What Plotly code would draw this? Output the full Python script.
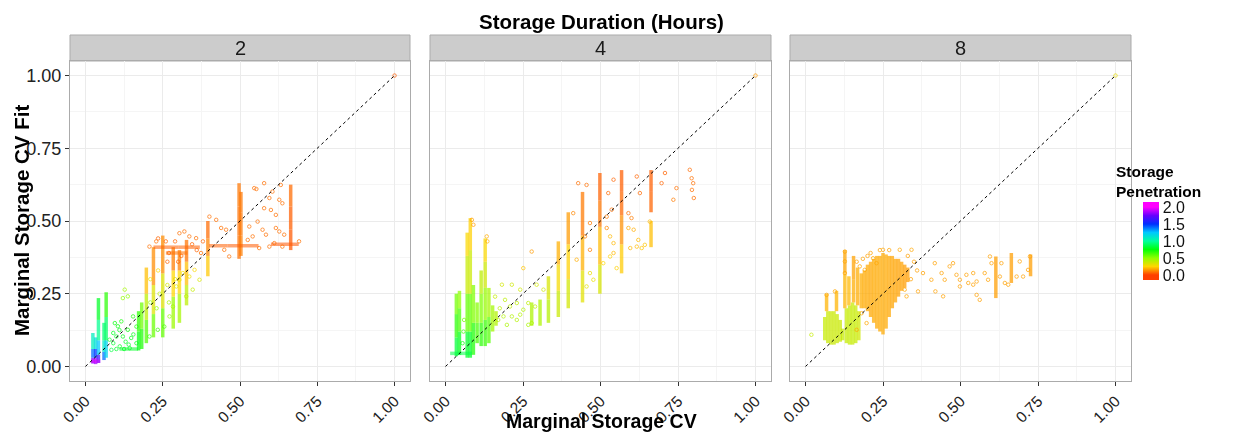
import plotly.graph_objects as go
from plotly.colors import sample_colorscale

# page is rendered with an 8px body margin: figure pixel = page pixel - 8
OFF = 8
W, H = 1238 - 2 * OFF, 441 - 2 * OFF
ML, MT = 70 - OFF, 35 - OFF
MR, MB = W - (1131 - OFF), H - (381 - OFF)
PW, PH = W - ML - MR, H - MT - MB
FONT = "Liberation Sans, Arial, sans-serif"

DURATIONS = ["2", "4", "8"]
X_TICKS = [0, 0.25, 0.5, 0.75, 1.0]
X_TICK_TEXT = ["0.00", "0.25", "0.50", "0.75", "1.00"]
Y_TICKS = [0, 0.25, 0.5, 0.75, 1.0]
Y_TICK_TEXT = ["0.00", "0.25", "0.50", "0.75", "1.00"]
MINOR_TICKS = [0.125, 0.375, 0.625, 0.875]
PEN_TICKS = [0, 0.5, 1.0, 1.5, 2.0]
PEN_TICK_TEXT = ["0.0", "0.5", "1.0", "1.5", "2.0"]
PEN_LIMITS = [-0.15, 2.15]
DIAG = [0.0, 1.0]

# ---------------- Panel "2" hours ----------------
# vertical streaks of points: (x, y knots, penetration at knots)
STREAKS_2 = [
    (0.024, [0.010, 0.03, 0.06, 0.115], [2.0, 1.6, 1.2, 0.95]),
    (0.033, [0.008, 0.03, 0.06, 0.10], [2.0, 1.7, 1.3, 1.0]),
    (0.042, [0.012, 0.04, 0.09, 0.16, 0.235], [1.9, 1.4, 1.1, 0.85, 0.75]),
    (0.060, [0.022, 0.05, 0.09, 0.15], [1.6, 1.2, 1.0, 0.85]),
    (0.067, [0.03, 0.09, 0.17, 0.255], [1.4, 1.0, 0.8, 0.55]),
    (0.172, [0.055, 0.12, 0.19], [0.8, 0.72, 0.62]),
    (0.182, [0.06, 0.13, 0.22], [0.78, 0.62, 0.5]),
    (0.197, [0.08, 0.16, 0.25, 0.34], [0.72, 0.5, 0.3, 0.12]),
    (0.220, [0.10, 0.18, 0.28, 0.41], [0.68, 0.45, 0.2, 0.05]),
    (0.250, [0.10, 0.20, 0.32, 0.45], [0.7, 0.45, 0.2, 0.05]),
    (0.284, [0.13, 0.24, 0.33, 0.41], [0.6, 0.35, 0.15, 0.05]),
    (0.304, [0.15, 0.25, 0.33, 0.40], [0.55, 0.35, 0.15, 0.06]),
    (0.327, [0.21, 0.28, 0.36, 0.435], [0.5, 0.3, 0.12, 0.05]),
    (0.396, [0.31, 0.38, 0.44, 0.50], [0.3, 0.15, 0.08, 0.06]),
    (0.497, [0.37, 0.45, 0.55, 0.63], [0.08, 0.08, 0.08, 0.1]),
    (0.503, [0.38, 0.45, 0.53, 0.60], [0.1, 0.1, 0.08, 0.1]),
    (0.664, [0.40, 0.47, 0.55, 0.625], [0.04, 0.04, 0.06, 0.08]),
]
# horizontal bands: (y, x knots, penetration at knots)
BANDS_2 = [
    (0.018, [0.018, 0.048], [2.0, 1.9]),
    (0.060, [0.11, 0.17], [0.8, 0.8]),
    (0.410, [0.22, 0.30, 0.37], [0.05, 0.05, 0.06]),
    (0.390, [0.26, 0.33], [0.08, 0.08]),
    (0.415, [0.40, 0.46, 0.56], [0.06, 0.04, 0.05]),
    (0.420, [0.60, 0.69], [0.04, 0.03]),
]
SCAT_X_2 = [0.578, 0.546, 0.605, 0.595, 0.627, 0.637, 0.578, 0.600, 0.616, 0.557, 0.573, 0.584,
            0.616, 0.627, 0.643, 0.530, 0.541, 0.562, 0.595, 0.611, 0.637, 0.691, 0.525, 0.553, 0.632,
            0.207, 0.229, 0.304, 0.320, 0.336, 0.358, 0.401, 0.423, 0.439, 0.455, 0.449, 0.465, 0.374,
            0.235, 0.260, 0.270, 0.290, 0.310, 0.345, 0.360, 0.380, 0.265, 0.300,
            0.121, 0.137, 0.127, 0.095, 0.105, 0.078, 0.084, 0.111, 0.143, 0.165, 0.137, 0.165, 0.121,
            0.148, 0.100, 0.116, 0.154, 0.090, 0.100, 0.130, 0.155, 0.125, 0.140, 0.090, 0.110,
            0.304, 0.315, 0.336, 0.294, 0.353, 0.283, 0.272, 0.234, 0.207, 0.255, 0.347, 0.326, 0.369,
            0.210, 0.235, 0.240, 0.265, 0.270, 0.230, 0.210, 0.290,
            1.0]
SCAT_Y_2 = [0.630, 0.613, 0.601, 0.579, 0.573, 0.561, 0.544, 0.538, 0.521, 0.498, 0.470, 0.453,
            0.476, 0.464, 0.453, 0.481, 0.447, 0.407, 0.412, 0.424, 0.412, 0.430, 0.435, 0.610, 0.624,
            0.412, 0.430, 0.458, 0.464, 0.447, 0.441, 0.515, 0.504, 0.476, 0.470, 0.401, 0.378, 0.390,
            0.440, 0.430, 0.390, 0.430, 0.380, 0.420, 0.400, 0.430, 0.360, 0.360,
            0.235, 0.241, 0.264, 0.149, 0.138, 0.092, 0.057, 0.069, 0.063, 0.080, 0.126, 0.137, 0.103,
            0.098, 0.103, 0.155, 0.172, 0.080, 0.060, 0.085, 0.110, 0.060, 0.075, 0.115, 0.125,
            0.298, 0.321, 0.309, 0.275, 0.332, 0.206, 0.172, 0.126, 0.103, 0.137, 0.264, 0.241, 0.298,
            0.300, 0.330, 0.250, 0.280, 0.220, 0.200, 0.220, 0.300,
            1.0]
SCAT_P_2 = [0.08] * 25 + [0.08] * 13 + [0.06] * 10 + \
           [0.5, 0.5, 0.45, 0.75, 0.75, 0.8, 0.85, 0.8, 0.8, 0.78, 0.75, 0.72, 0.78,
            0.78, 0.8, 0.72, 0.7, 0.82, 0.82, 0.8, 0.78, 0.8, 0.8, 0.8, 0.78] + \
           [0.3, 0.28, 0.3, 0.33, 0.26, 0.45, 0.5, 0.65, 0.68, 0.62, 0.38, 0.42, 0.34] + \
           [0.3, 0.25, 0.4, 0.35, 0.45, 0.5, 0.5, 0.3] + [0.05]

# ---------------- Panel "4" hours ----------------
STREAKS_4 = [
    (0.035, [0.035, 0.10, 0.18, 0.25], [0.9, 0.75, 0.6, 0.5]),
    (0.045, [0.04, 0.12, 0.20, 0.26], [0.85, 0.7, 0.55, 0.45]),
    (0.070, [0.03, 0.12, 0.25, 0.38, 0.46], [0.9, 0.7, 0.45, 0.3, 0.22]),
    (0.080, [0.03, 0.12, 0.25, 0.40, 0.51], [0.9, 0.7, 0.45, 0.28, 0.2]),
    (0.090, [0.04, 0.15, 0.28], [0.8, 0.6, 0.45]),
    (0.102, [0.08, 0.15, 0.22], [0.7, 0.55, 0.48]),
    (0.115, [0.07, 0.15, 0.25, 0.33], [0.75, 0.6, 0.45, 0.35]),
    (0.128, [0.07, 0.16, 0.27, 0.36, 0.44], [0.75, 0.55, 0.42, 0.3, 0.22]),
    (0.140, [0.08, 0.17, 0.27], [0.7, 0.5, 0.4]),
    (0.152, [0.12, 0.21], [0.5, 0.42]),
    (0.163, [0.14, 0.19], [0.45, 0.4]),
    (0.278, [0.14, 0.22], [0.45, 0.42]),
    (0.305, [0.14, 0.23], [0.45, 0.42]),
    (0.332, [0.15, 0.23, 0.31], [0.45, 0.38, 0.3]),
    (0.364, [0.17, 0.26, 0.35, 0.43], [0.42, 0.32, 0.22, 0.15]),
    (0.396, [0.20, 0.30, 0.42, 0.53], [0.4, 0.3, 0.18, 0.12]),
    (0.442, [0.22, 0.33, 0.45, 0.60], [0.38, 0.25, 0.12, 0.07]),
    (0.498, [0.25, 0.35, 0.48, 0.57, 0.665], [0.4, 0.28, 0.12, 0.06, 0.05]),
    (0.568, [0.32, 0.42, 0.52, 0.60, 0.675], [0.28, 0.18, 0.08, 0.05, 0.05]),
    (0.663, [0.53, 0.60, 0.675], [0.07, 0.05, 0.05]),
    (0.663, [0.41, 0.50], [0.22, 0.2]),
]
BANDS_4 = [
    (0.045, [0.015, 0.085], [0.85, 0.85]),
]
SCAT_X_4 = [0.182, 0.214, 0.241, 0.192, 0.208, 0.230, 0.251, 0.187, 0.214, 0.241, 0.267, 0.278,
            0.198, 0.230, 0.294, 0.316, 0.289, 0.267,
            0.278, 0.251, 0.085, 0.090, 0.133, 0.135,
            0.428, 0.455, 0.542, 0.525, 0.536, 0.520, 0.590, 0.600, 0.617, 0.627, 0.697, 0.708,
            0.745, 0.735, 0.788, 0.799, 0.795, 0.801, 0.794, 0.466, 0.450, 0.466, 0.520, 0.412,
            0.531, 0.542, 0.590, 0.607, 0.622, 0.633, 0.643, 0.617, 0.596, 0.531, 0.509, 0.542,
            0.552, 0.659, 0.423,
            0.466, 0.477, 0.455,
            0.055, 0.058, 0.060, 0.170, 0.175, 0.160,
            1.0]
SCAT_Y_4 = [0.281, 0.281, 0.264, 0.229, 0.206, 0.218, 0.195, 0.172, 0.172, 0.178, 0.143, 0.149,
            0.143, 0.160, 0.281, 0.264, 0.206, 0.218,
            0.395, 0.338, 0.504, 0.487, 0.447, 0.430,
            0.630, 0.624, 0.642, 0.596, 0.539, 0.515, 0.527, 0.510, 0.653, 0.596, 0.630, 0.665,
            0.613, 0.573, 0.676, 0.630, 0.607, 0.579, 0.647, 0.401, 0.447, 0.493, 0.476, 0.527,
            0.447, 0.424, 0.476, 0.470, 0.435, 0.407, 0.418, 0.412, 0.407, 0.378, 0.355, 0.390,
            0.338, 0.498, 0.367,
            0.321, 0.298, 0.275,
            0.080, 0.120, 0.160, 0.160, 0.200, 0.240,
            1.0]
SCAT_P_4 = [0.35, 0.36, 0.36, 0.4, 0.4, 0.4, 0.42, 0.42, 0.42, 0.42, 0.44, 0.44,
            0.44, 0.42, 0.35, 0.36, 0.4, 0.4,
            0.15, 0.22, 0.15, 0.15, 0.18, 0.18,
            0.08, 0.08, 0.06, 0.07, 0.08, 0.1, 0.08, 0.1, 0.06, 0.07, 0.06, 0.06,
            0.08, 0.1, 0.07, 0.08, 0.08, 0.08, 0.08, 0.1, 0.1, 0.1, 0.12, 0.12,
            0.2, 0.2, 0.18, 0.18, 0.2, 0.22, 0.22, 0.2, 0.2, 0.24, 0.26, 0.2,
            0.24, 0.2, 0.18,
            0.3, 0.3, 0.32,
            0.75, 0.65, 0.55, 0.42, 0.4, 0.38,
            0.15]

# ---------------- Panel "8" hours ----------------
STREAKS_8 = [
    (0.062, [0.09, 0.17], [0.38, 0.38]),
    (0.072, [0.08, 0.19], [0.38, 0.36]),
    (0.082, [0.075, 0.19], [0.38, 0.36]),
    (0.092, [0.075, 0.19], [0.38, 0.36]),
    (0.102, [0.08, 0.18], [0.38, 0.36]),
    (0.112, [0.085, 0.16], [0.38, 0.36]),
    (0.120, [0.09, 0.13], [0.38, 0.38]),
    (0.068, [0.19, 0.25], [0.2, 0.18]),
    (0.100, [0.19, 0.26], [0.2, 0.18]),
    (0.132, [0.08, 0.20], [0.4, 0.36]),
    (0.142, [0.075, 0.21], [0.4, 0.36]),
    (0.152, [0.075, 0.22], [0.4, 0.36]),
    (0.162, [0.08, 0.21], [0.4, 0.36]),
    (0.172, [0.09, 0.19], [0.38, 0.34]),
    (0.127, [0.20, 0.32, 0.40], [0.22, 0.17, 0.16]),
    (0.140, [0.21, 0.31], [0.22, 0.18]),
    (0.155, [0.22, 0.30, 0.38], [0.2, 0.16, 0.16]),
    (0.168, [0.21, 0.34], [0.2, 0.16]),
    (0.180, [0.20, 0.32], [0.2, 0.16]),
    (0.190, [0.20, 0.33], [0.19, 0.16]),
    (0.200, [0.19, 0.35], [0.19, 0.16]),
    (0.210, [0.17, 0.36], [0.19, 0.15]),
    (0.220, [0.15, 0.37], [0.2, 0.15]),
    (0.230, [0.13, 0.38], [0.2, 0.15]),
    (0.240, [0.12, 0.38], [0.2, 0.15]),
    (0.250, [0.11, 0.39], [0.2, 0.15]),
    (0.260, [0.13, 0.385], [0.2, 0.15]),
    (0.270, [0.17, 0.38], [0.19, 0.15]),
    (0.280, [0.20, 0.38], [0.18, 0.15]),
    (0.290, [0.22, 0.37], [0.18, 0.15]),
    (0.300, [0.24, 0.37], [0.17, 0.15]),
    (0.310, [0.26, 0.36], [0.17, 0.15]),
    (0.320, [0.27, 0.35], [0.16, 0.15]),
    (0.330, [0.29, 0.34], [0.16, 0.15]),
    (0.614, [0.235, 0.378], [0.16, 0.15]),
    (0.664, [0.287, 0.39], [0.16, 0.15]),
    (0.726, [0.31, 0.385], [0.16, 0.15]),
]
BANDS_8 = []
SCAT_X_8 = [0.417, 0.379, 0.363, 0.406, 0.419, 0.444, 0.439, 0.449, 0.465, 0.476, 0.487, 0.498,
            0.498, 0.519, 0.525, 0.541, 0.541, 0.552, 0.552, 0.562, 0.578, 0.589, 0.595, 0.600,
            0.632, 0.627, 0.643, 0.654, 0.681, 0.691, 0.702, 0.718, 0.724,
            0.019, 0.068, 0.095, 0.127, 0.127, 0.127, 0.197, 0.165, 0.181, 0.320, 0.326, 0.342,
            0.304, 0.250, 0.218, 0.229, 0.175, 0.191,
            0.200, 0.210, 0.240, 0.270, 0.330, 0.350, 0.360, 0.340, 0.185, 0.165,
            1.0]
SCAT_Y_8 = [0.355, 0.321, 0.258, 0.298, 0.258, 0.241, 0.321, 0.298, 0.344, 0.355, 0.315, 0.298,
            0.275, 0.315, 0.287, 0.281, 0.321, 0.292, 0.246, 0.229, 0.321, 0.298, 0.378, 0.355,
            0.355, 0.309, 0.287, 0.281, 0.309, 0.361, 0.309, 0.332, 0.378,
            0.109, 0.246, 0.258, 0.395, 0.361, 0.321, 0.149, 0.126, 0.183, 0.264, 0.241, 0.401,
            0.401, 0.401, 0.372, 0.355, 0.344, 0.332,
            0.380, 0.390, 0.400, 0.400, 0.380, 0.360, 0.330, 0.300, 0.370, 0.360,
            1.0]
SCAT_P_8 = [0.16] * 33 + [0.38] + [0.17] * 17 + [0.16] * 10 + [0.3]

PANELS = [
    (STREAKS_2, BANDS_2, SCAT_X_2, SCAT_Y_2, SCAT_P_2),
    (STREAKS_4, BANDS_4, SCAT_X_4, SCAT_Y_4, SCAT_P_4),
    (STREAKS_8, BANDS_8, SCAT_X_8, SCAT_Y_8, SCAT_P_8),
]

# rainbow palette over penetration 0 -> 2
RAINBOW = [(0.0, "#FF4000"), (0.25, "#FFD700"), (0.5, "#8FFF00"), (0.75, "#00FF08"),
           (1.0, "#00FF9F"), (1.25, "#00C8FF"), (1.5, "#002FFF"), (1.75, "#6600FF"),
           (2.0, "#FF00FF")]
LO, HI = PEN_LIMITS
CSCALE = [[0.0, RAINBOW[0][1]]] + \
         [[(p - LO) / (HI - LO), c] for p, c in RAINBOW] + [[1.0, RAINBOW[-1][1]]]


def pcolor(p):
    v = min(max((p - LO) / (HI - LO), 0.0), 1.0)
    return sample_colorscale(CSCALE, [v])[0]


def fx(px):  # page pixel -> paper x
    return (px - OFF - ML) / PW


def fy(py):  # page pixel -> paper y
    return (H - MB - (py - OFF)) / PH


fig = go.Figure()

XDOM = [[fx(70), fx(410)], [fx(430), fx(771)], [fx(790), fx(1131)]]
YDOM = [fy(381), fy(61)]
STRIP = [fy(61), fy(35)]

for i, (streaks, bands, sx, sy, sp) in enumerate(PANELS):
    xa = "x" if i == 0 else f"x{i + 1}"
    ya = "y" if i == 0 else f"y{i + 1}"
    segs = []
    for x, ys, ps in streaks:
        for k in range(len(ys) - 1):
            segs.append(([x, x], [ys[k], ys[k + 1]], (ps[k] + ps[k + 1]) / 2, 0.72))
    for y, xs, ps in bands:
        for k in range(len(xs) - 1):
            segs.append(([xs[k], xs[k + 1]], [y, y], (ps[k] + ps[k + 1]) / 2, 0.55))
    for xs, ys, p, op in segs:
        fig.add_trace(go.Scatter(
            x=xs, y=ys, mode="lines", xaxis=xa, yaxis=ya,
            line=dict(color=pcolor(p), width=3.5), opacity=op,
            hoverinfo="skip", showlegend=False))
    fig.add_trace(go.Scatter(
        x=sx, y=sy, mode="markers", xaxis=xa, yaxis=ya,
        marker=dict(symbol="circle-open", size=3.5, color=sp, colorscale=CSCALE,
                    cmin=LO, cmax=HI, line=dict(width=1),
                    showscale=(i == 2),
                    colorbar=dict(x=fx(1143), xanchor="left", xpad=0, ypad=0,
                                  y=fy(241), yanchor="middle", len=78, lenmode="pixels",
                                  thickness=16, outlinewidth=0, ticks="",
                                  tickvals=PEN_TICKS, ticktext=PEN_TICK_TEXT,
                                  tickfont=dict(size=16, color="#111", family=FONT))),
        opacity=0.75, hoverinfo="skip", showlegend=False))
    fig.add_trace(go.Scatter(
        x=DIAG, y=DIAG, mode="lines", xaxis=xa, yaxis=ya,
        line=dict(color="black", width=1, dash="3px,3px"),
        hoverinfo="skip", showlegend=False))

    axcommon = dict(range=[-0.05, 1.05], showgrid=True, gridcolor="#EBEBEB", gridwidth=1,
                    zeroline=False, showline=True, linecolor="#ABABAB", linewidth=1, mirror=True,
                    minor=dict(tickvals=MINOR_TICKS, showgrid=True, gridcolor="#F5F5F5",
                               gridwidth=0.6, ticks=""))
    xkey = "xaxis" if i == 0 else f"xaxis{i + 1}"
    ykey = "yaxis" if i == 0 else f"yaxis{i + 1}"
    fig.update_layout({
        xkey: dict(axcommon, domain=XDOM[i], anchor=ya, tickvals=X_TICKS, ticktext=X_TICK_TEXT,
                   tickangle=-45, ticks="outside", ticklen=4, tickcolor="#333",
                   tickfont=dict(size=15.5, color="#222", family=FONT)),
        ykey: dict(axcommon, domain=YDOM, anchor=xa, tickvals=Y_TICKS, ticktext=Y_TICK_TEXT,
                   ticks="outside" if i == 0 else "", ticklen=4, tickcolor="#333",
                   showticklabels=(i == 0),
                   tickfont=dict(size=18, color="#222", family=FONT)),
    })
    fig.add_shape(type="rect", xref="paper", yref="paper",
                  x0=XDOM[i][0], x1=XDOM[i][1], y0=STRIP[0], y1=STRIP[1],
                  fillcolor="#CCCCCC", line=dict(color="#ABABAB", width=1), layer="below")
    fig.add_annotation(x=(XDOM[i][0] + XDOM[i][1]) / 2, y=(STRIP[0] + STRIP[1]) / 2,
                       xref="paper", yref="paper", text=DURATIONS[i], showarrow=False,
                       font=dict(size=20, color="#1A1A1A", family=FONT),
                       xanchor="center", yanchor="middle")

fig.add_annotation(x=fx(601), y=fy(21), xref="paper", yref="paper",
                   text="<b>Storage Duration (Hours)</b>", showarrow=False,
                   font=dict(size=20.5, color="black", family=FONT),
                   xanchor="center", yanchor="middle")
fig.add_annotation(x=fx(601), y=fy(421.5), xref="paper", yref="paper",
                   text="<b>Marginal Storage CV</b>", showarrow=False,
                   font=dict(size=19.5, color="black", family=FONT),
                   xanchor="center", yanchor="middle")
fig.add_annotation(x=fx(21), y=fy(221), xref="paper", yref="paper",
                   text="<b>Marginal Storage CV Fit</b>", showarrow=False, textangle=-90,
                   font=dict(size=20.5, color="black", family=FONT),
                   xanchor="center", yanchor="middle")
fig.add_annotation(x=fx(1114), y=fy(161), xref="paper", yref="paper",
                   text="<b>Storage<br>Penetration</b>", showarrow=False, align="left",
                   font=dict(size=15.5, color="black", family=FONT),
                   xanchor="left", yanchor="top")

fig.update_layout(width=W, height=H, margin=dict(l=ML, r=MR, t=MT, b=MB, autoexpand=False),
                  paper_bgcolor="white", plot_bgcolor="white",
                  font=dict(family=FONT), showlegend=False)

fig.write_html("out.html")
